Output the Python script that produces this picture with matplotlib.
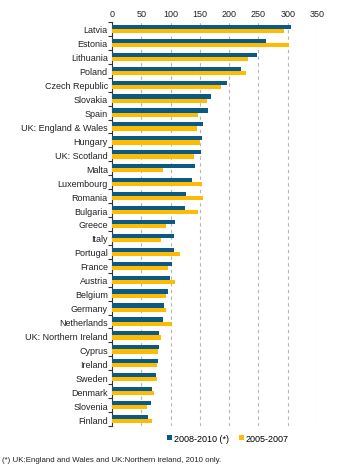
import matplotlib
matplotlib.use("Agg")
import matplotlib.pyplot as plt
import numpy as np

countries = ["Latvia", "Estonia", "Lithuania", "Poland", "Czech Republic", "Slovakia",
             "Spain", "UK: England & Wales", "Hungary", "UK: Scotland", "Malta",
             "Luxembourg", "Romania", "Bulgaria", "Greece", "Italy", "Portugal",
             "France", "Austria", "Belgium", "Germany", "Netherlands",
             "UK: Northern Ireland", "Cyprus", "Ireland", "Sweden", "Denmark",
             "Slovenia", "Finland"]
v_2008_2010 = [306, 263, 248, 220, 197, 169, 164, 155, 154, 152, 141, 137, 126, 125,
               108, 106, 105, 102, 99, 96, 88, 87, 81, 81, 78, 75, 68, 66, 61]
v_2005_2007 = [293, 303, 232, 228, 186, 162, 147, 145, 150, 140, 87, 153, 155, 146,
               93, 84, 116, 95, 108, 92, 93, 102, 83, 78, 77, 77, 71, 60, 68]
series_labels = ["2008-2010 (*)", "2005-2007"]
xticks = [0, 50, 100, 150, 200, 250, 300, 350]
footnote = "(*) UK:England and Wales and UK:Northern ireland, 2010 only."

c_dark = "#0b5a86"
c_yel = "#ffbb00"

plt.rcParams['font.family'] = ['Liberation Sans', 'DejaVu Sans']

fig = plt.figure(figsize=(3.5, 4.77), dpi=100)
ax = fig.add_axes([112/350, 1 - 427/477, 205/350, (427 - 23)/477])

y = np.arange(len(countries))
h = 0.3
ax.barh(y - h/2, v_2008_2010, height=h, color=c_dark, label=series_labels[0], zorder=3)
ax.barh(y + h/2, v_2005_2007, height=h, color=c_yel, label=series_labels[1], zorder=3)

ax.set_ylim(len(countries) - 0.5, -0.5)
ax.set_xlim(0, 350)
ax.set_yticks(y)
ax.set_yticklabels(countries, fontsize=6.5, color="#222222")
ax.set_yticks(np.arange(len(countries) + 1) - 0.5, minor=True)
ax.tick_params(axis="y", which="major", length=0, pad=3)
ax.tick_params(axis="y", which="minor", length=3, width=0.8, color="#333333")
ax.xaxis.tick_top()
ax.set_xticks(xticks)
ax.set_xticklabels([str(t) for t in xticks], fontsize=6.5, color="#222222")
ax.tick_params(axis="x", length=0, pad=3)
ax.grid(axis="x", linestyle=(0, (3, 3)), color="#b5b5b5", linewidth=0.8, zorder=0)
for s in ["top", "right", "bottom"]:
    ax.spines[s].set_visible(False)
ax.spines["left"].set_color("#333333")
ax.spines["left"].set_linewidth(0.8)

leg = fig.legend(loc="center", bbox_to_anchor=(228/350, 1 - 439/477), ncol=2,
                 fontsize=6.5, frameon=False, handlelength=0.5, handleheight=0.5,
                 handletextpad=0.2, columnspacing=1.2)

fig.text(2/350, 1 - 461/477, footnote, fontsize=5.7, color="#222222", va="center")

fig.savefig("out.png", dpi=100)
